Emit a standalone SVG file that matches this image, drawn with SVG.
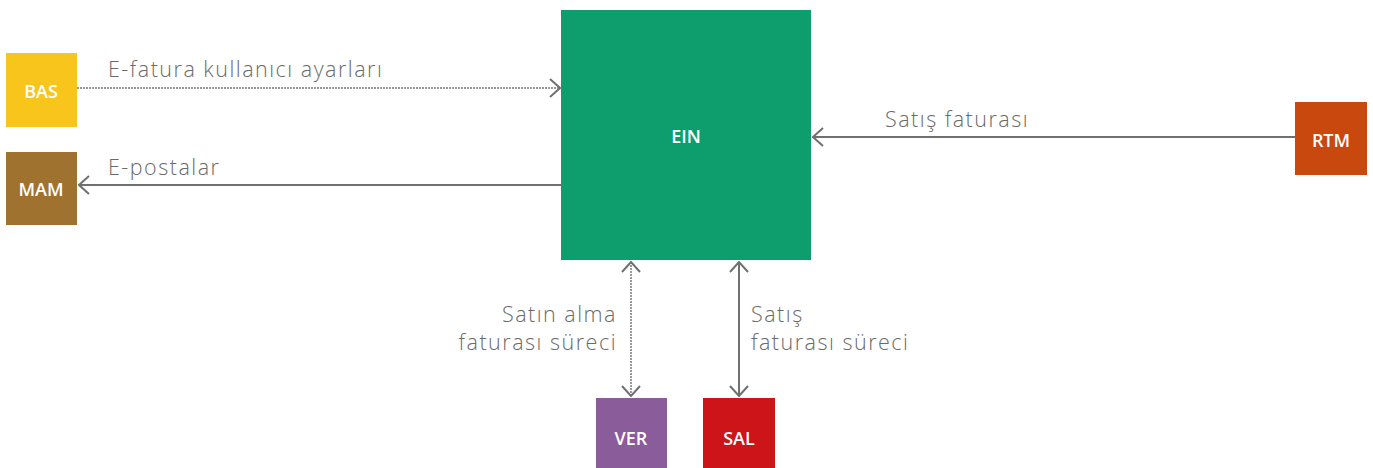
<svg xmlns="http://www.w3.org/2000/svg" width="1373" height="468" viewBox="0 0 1373 468">
<style>
.lbl{font-family:"Open Sans","Liberation Sans",sans-serif;font-size:21.5px;font-weight:300;letter-spacing:1.5px;fill:#6a6a6a;}
.nt{font-family:"Open Sans","Liberation Sans",sans-serif;font-size:18px;font-weight:600;fill:#fff;text-anchor:middle;dominant-baseline:central;}
.c{stroke:#707070;stroke-width:2;fill:none;}
.d{stroke-dasharray:2 1;stroke:#999;}
</style>
<defs>
<marker id="ah" viewBox="0 0 12 20" refX="11" refY="10" markerWidth="12" markerHeight="20" markerUnits="userSpaceOnUse" orient="auto-start-reverse">
<path d="M1,1 L11,10 L1,19" fill="none" stroke="#707070" stroke-width="2"/>
</marker>
</defs>
<rect width="1373" height="468" fill="#fff"/>
<g id="connectors">
<line class="c d" x1="77" y1="88" x2="560" y2="88" marker-end="url(#ah)"/>
<line class="c" x1="561" y1="185" x2="79" y2="185" marker-end="url(#ah)"/>
<line class="c" x1="1295" y1="137" x2="813" y2="137" marker-end="url(#ah)"/>
<line class="c d" x1="631" y1="262" x2="631" y2="396" marker-start="url(#ah)" marker-end="url(#ah)"/>
<line class="c" x1="739" y1="262" x2="739" y2="396" marker-start="url(#ah)" marker-end="url(#ah)"/>
<text class="lbl" x="108" y="77">E-fatura kullanıcı ayarları</text>
<text class="lbl" x="108" y="175">E-postalar</text>
<text class="lbl" x="885" y="127">Satış faturası</text>
<text class="lbl" x="617" y="322" text-anchor="end">Satın alma</text>
<text class="lbl" x="617" y="350" text-anchor="end">faturası süreci</text>
<text class="lbl" x="751" y="322">Satış</text>
<text class="lbl" x="751" y="350">faturası süreci</text>
</g>
<g id="BAS"><rect x="6" y="53" width="71" height="74" fill="#F8C51C"/><text class="nt" x="41" y="91">BAS</text></g>
<g id="MAM"><rect x="6" y="152" width="71" height="73" fill="#A07230"/><text class="nt" x="41" y="189">MAM</text></g>
<g id="EIN"><rect x="561" y="10" width="250" height="250" fill="#0E9E6E"/><text class="nt" x="686" y="136">EIN</text></g>
<g id="RTM"><rect x="1295" y="102" width="72" height="73" fill="#C8480E"/><text class="nt" x="1331" y="140">RTM</text></g>
<g id="VER"><rect x="596" y="398" width="71" height="70" fill="#8A5C9A"/><text class="nt" x="631" y="438">VER</text></g>
<g id="SAL"><rect x="703" y="398" width="72" height="70" fill="#CC1419"/><text class="nt" x="739" y="438">SAL</text></g>
</svg>
